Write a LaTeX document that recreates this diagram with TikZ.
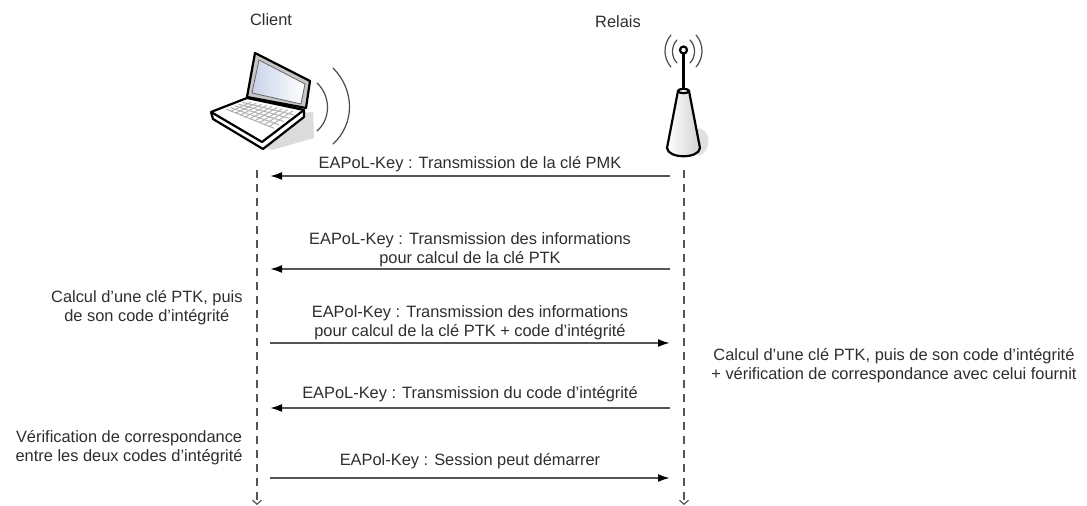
\documentclass[tikz,border=0pt]{standalone}
\usepackage{fontspec}
\setmainfont{Liberation Sans}
\usepackage{xcolor}
\usetikzlibrary{arrows.meta, positioning, calc}

\definecolor{inkgray}{HTML}{2E2E2E}
\definecolor{linegray}{HTML}{555555}
\definecolor{screenblue}{HTML}{C9D3E8}

\begin{document}
\begin{tikzpicture}[
    x=0.5pt, y=-0.5pt,
    every node/.style={font=\fontsize{8.2}{9.6}\selectfont, text=inkgray, align=center, inner sep=0pt},
    lifeline/.style={draw=linegray, line width=1.1pt, dash pattern=on 4pt off 3pt, -{Straight Barb[length=2pt, width=4.5pt, line width=0.6pt]}},
    msg/.style={draw=linegray, line width=1pt, -{Latex[length=6pt, width=4pt, black]}},
    note/.style={align=center},
    device/.style={draw=black, line width=1.1pt, line join=round},
    wave/.style={draw=black!70, line width=0.6pt, line cap=round}
]
\fill[white] (0,0) rectangle (1087,506);
\useasboundingbox (0,0) rectangle (1087,506);

% headers and lifelines
\node (client) at (271,20) {Client};
\node (relais) at (618,22) {Relais};
\coordinate (cli top) at (257,170);
\coordinate (cli bot) at (257,505);
\coordinate (rel top) at (684,170);
\coordinate (rel bot) at (684,505);
\draw[lifeline] (cli top) -- (cli bot);
\draw[lifeline] (rel top) -- (rel bot);

% laptop
\fill[black!14] (298,113) -- (313,112) -- (314,138) -- (272,150) -- (262,146) -- cycle;
\draw[device, fill=black!22] (247,97) -- (255,53) -- (310,81) -- (306,108) -- cycle;
\shade[left color=screenblue, right color=white, draw=black!60, line width=0.4pt]
    (252,93) -- (259,60) -- (305,84) -- (301,104) -- cycle;
\draw[device, fill=white] (211,112) -- (247,98) -- (304,110) -- (304,117) -- (263,149) -- (213,119) -- cycle;
\draw[device] (211,112) -- (262,142) -- (304,110);
\coordinate (kA) at (246,101);
\coordinate (kB) at (298,112);
\coordinate (kC) at (263,136);
\coordinate (kD) at (217,113);
\foreach \t in {0.12,0.26,...,0.7}
    \draw[black!30, line width=0.5pt] ($(kA)!\t!(kD)$) -- ($(kB)!\t!(kC)$);
\foreach \t in {0.1,0.2,...,0.95}
    \draw[black!30, line width=0.5pt] ($(kA)!\t!(kB)$) -- ($($(kA)!\t!(kB)$)!0.7!($(kD)!\t!(kC)$)$);
\draw[wave] (317,83) .. controls (331,96) and (331,119) .. (317,131);
\draw[wave] (333,68) .. controls (355,90) and (355,124) .. (333,144);

% access point
\fill[black!12] (698,128) .. controls (712,130) and (712,152) .. (698,156) -- cycle;
\shade[left color=white, right color=black!18, draw=black, line width=1.1pt]
    (678,91) -- (667,148) .. controls (668,159) and (699,159) .. (700,148) -- (689,91) -- cycle;
\draw[device, fill=white] (683.5,91) ellipse [x radius=5.5, y radius=2.2];
\draw[device] (683.5,89) -- (683.5,54);
\draw[device, fill=white] (683.5,50) circle [radius=3.5];
\draw[wave] (677,40) .. controls (671,46) and (671,57) .. (677,63);
\draw[wave] (690,40) .. controls (696,46) and (696,57) .. (690,63);
\draw[wave] (671,35) .. controls (663,44) and (663,58) .. (671,67);
\draw[wave] (696,35) .. controls (704,44) and (704,58) .. (696,67);

% message ends
\foreach \y [count=\i] in {176,269,343,408,478} {
    \coordinate (c\i) at (270,\y);
    \coordinate (r\i) at (670,\y);
}

\draw[msg] (r1) -- node[above=1.5pt] {EAPoL-Key : Transmission de la clé PMK} (c1);
\draw[msg] (r2) -- node[above=0.5pt] {EAPoL-Key : Transmission des informations\\pour calcul de la clé PTK} (c2);
\draw[msg] (c3) -- node[above=1pt] {EAPol-Key : Transmission des informations\\pour calcul de la clé PTK + code d’intégrité} (r3);
\draw[msg] (r4) -- node[above=2.5pt] {EAPoL-Key : Transmission du code d’intégrité} (c4);
\draw[msg] (c5) -- node[above=4pt] {EAPol-Key : Session peut démarrer} (r5);

% side notes
\node[note, anchor=east] (calc cli) at (243,308) {Calcul d’une clé PTK, puis\\de son code d’intégrité};
\node[note, anchor=west] (calc rel) at (711,366) {Calcul d’une clé PTK, puis de son code d’intégrité\\+ vérification de correspondance avec celui fournit};
\node[note, anchor=east] (verif cli) at (243,448) {Vérification de correspondance\\entre les deux codes d’intégrité};
\end{tikzpicture}
\end{document}
